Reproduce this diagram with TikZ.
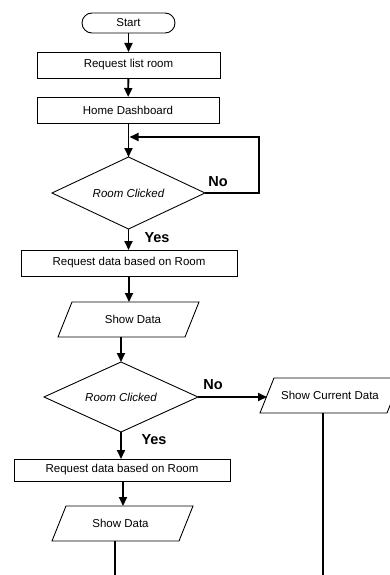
\documentclass[tikz,border=0pt]{standalone}
\usepackage{fontspec}
\setmainfont{Liberation Sans}
\usetikzlibrary{shapes.geometric,arrows.meta,calc}
\begin{document}
\begin{tikzpicture}[x=1pt,y=-1pt,
  every node/.style={inner sep=0pt,outer sep=0pt,font=\fontsize{11.5}{14}\selectfont},
  procbox/.style={draw,line width=0.9pt,rectangle,minimum height=26pt},
  termbox/.style={draw,line width=0.9pt,rectangle,rounded corners=10pt,minimum width=93pt,minimum height=20pt},
  decbox/.style={draw,line width=0.9pt,diamond,aspect=2.2,font=\fontsize{11.5}{14}\selectfont\itshape},
  parabox/.style={rectangle,minimum width=141pt,minimum height=35pt},
  paraline/.style={line width=0.9pt},
  conn/.style={line width=1.9pt,-{Triangle[length=9pt,width=8pt]}},
  plainconn/.style={line width=1.9pt},
  lab/.style={font=\fontsize{14.5}{16}\selectfont\bfseries}
]
\useasboundingbox (0,0) rectangle (389,575);

\node[termbox] (start) at (128.5,23) {Start};
\node[procbox,minimum width=183pt] (req1) at (128.5,65) {Request list room};
\node[procbox,minimum width=182pt] (home) at (128,110) {Home Dashboard};
\node[decbox,minimum width=153pt,minimum height=72pt] (d1) at (128.5,193) {Room Clicked};
\node[procbox,minimum width=216pt] (req2) at (129,263) {Request data based on Room};
\node[parabox] (sd1) at (128.5,319.5) {\hspace*{9pt}Show Data};
\node[decbox,minimum width=154pt,minimum height=70pt] (d2) at (121,397) {Room Clicked};
\node[parabox] (scd) at (330.5,395.5) {\hspace*{-1pt}Show Current Data};
\node[procbox,minimum width=216pt,minimum height=22pt] (req3) at (122,470) {Request data based on Room};
\node[parabox] (sd2) at (122.5,523.5) {\hspace*{-4pt}Show Data};

% parallelogram outlines
\foreach \p in {sd1,scd,sd2}{
  \draw[paraline] ([xshift=14pt]\p.north west) -- (\p.north east)
    -- ([xshift=-14pt]\p.south east) -- (\p.south west) -- cycle;
}

\coordinate (loopR) at (259,137);
\coordinate (end1) at (115,575);
\coordinate (end2) at (323,575);

% connectors
\draw[conn] (start) -- (req1);
\draw[conn] (req1) -- (home);
\draw[plainconn] (home.south -| d1.north) -- (d1.north);
\draw[conn] ($(d1.north)+(0,-2)$) -- (d1.north);
\draw[conn] (d1.east) -- (d1.east -| loopR) -- (loopR) -- ($(loopR -| d1.north)+(1,0)$);
\draw[conn] (d1.south) -- (d1.south |- req2.north);
\draw[conn] (req2.south) -- (req2.south |- sd1.north);
\draw[conn] (sd1.south -| d2.north) -- (d2.north);
\draw[conn] (d2.east) -- ($(d2.east -| scd.south west)+(7,0)$);
\draw[conn] (d2.south) -- (d2.south |- req3.north);
\draw[conn] (req3.south -| 123,0) -- (123,0 |- sd2.north);
\draw[plainconn] (sd2.south -| end1) -- (end1);
\draw[plainconn] (scd.south -| end2) -- (end2);

% labels
\node[lab] (no1) at (218,182) {No};
\node[lab] (yes1) at (157,238) {Yes};
\node[lab] (no2) at (213,385) {No};
\node[lab] (yes2) at (154,440) {Yes};
\end{tikzpicture}
\end{document}
